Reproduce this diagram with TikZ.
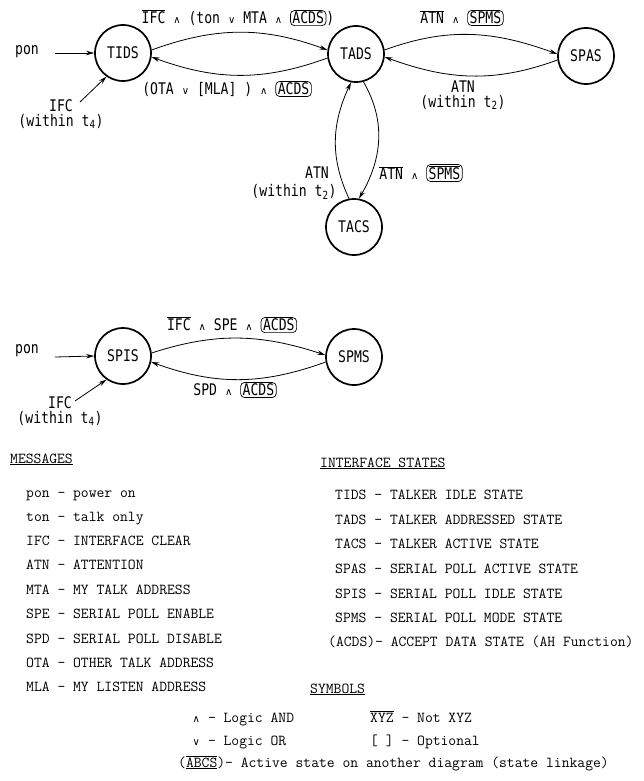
\documentclass[tikz,border=0pt]{standalone}
\usepackage{fontspec}
\usetikzlibrary{arrows.meta}
\newfontfamily\dfont[FakeStretch=0.82]{DejaVu Sans Mono}
\newfontfamily\symfont{DejaVu Sans}
\newcommand\AND{{\symfont\fontsize{10}{10}\selectfont ∧}}
\newcommand\OR{{\symfont\fontsize{10}{10}\selectfont ∨}}
\newcommand\lk[1]{\tikz[baseline=(lkx.base)]\node[draw,rounded corners=4pt,inner xsep=2pt,inner ysep=1.5pt,line width=0.7pt](lkx){#1};}
\newcommand\ol[1]{$\overline{\hbox{#1}}$}
\begin{document}
\begin{tikzpicture}[x=1pt,y=1pt,
  st/.style={circle,draw,line width=1.7pt,minimum size=56pt,inner sep=0pt,font=\dfont\fontsize{16}{16}\selectfont},
  lab/.style={font=\dfont\fontsize{16}{15}\selectfont,inner sep=0pt,align=center},
  tr/.style={line width=0.8pt,-{Stealth[length=8pt,width=4.5pt]}},
  leg/.style={font=\ttfamily\fontsize{15.2}{15.2}\selectfont,anchor=base west,inner sep=0pt}]
\useasboundingbox (0,0) rectangle (644,-781);
% states
\node[st] (TIDS) at (123,-53) {TIDS};
\node[st] (TADS) at (356,-54) {TADS};
\node[st] (SPAS) at (586,-56) {SPAS};
\node[st] (TACS) at (354,-227) {TACS};
\node[st] (SPIS) at (123,-356) {SPIS};
\node[st] (SPMS) at (354,-357) {SPMS};
% transitions
\draw[tr] (TIDS.6) to[out=20,in=160] (TADS.172);
\draw[tr] (TADS.188) to[out=200,in=-20] (TIDS.-8);
\draw[tr] (TADS.8) to[out=20,in=160] (SPAS.176);
\draw[tr] (SPAS.188) to[out=200,in=-20] (TADS.-6);
\draw[tr] (TACS.100) to[out=115,in=-115] (TADS.-100);
\draw[tr] (TADS.-75) to[out=-60,in=60] (TACS.80);
\draw[tr] (SPIS.6) to[out=18,in=162] (SPMS.176);
\draw[tr] (SPMS.190) to[out=200,in=-20] (SPIS.-12);
% initial arrows
\node[lab] (pon1) at (27,-52) {pon};
\coordinate (p1) at (55,-53);
\draw[tr] (p1) -- (TIDS.west);
\node[lab] (ifc1) at (61,-114) {IFC\\(within t\textsubscript{4})};
\coordinate (i1) at (80,-102);
\draw[tr] (i1) -- (TIDS.235);
\node[lab] (pon2) at (27,-351) {pon};
\coordinate (p2) at (55,-357);
\draw[tr] (p2) -- (SPIS.west);
\node[lab] (ifc2) at (60,-411) {IFC\\(within t\textsubscript{4})};
\coordinate (i2) at (75,-401);
\draw[tr] (i2) -- (SPIS.235);
% edge labels
\node[lab] (l1) at (238,-18) {\ol{IFC} \AND{} (ton \OR{} MTA \AND{} \lk{ACDS})};
\node[lab] (l2) at (227,-89) {(OTA \OR{} [MLA] ) \AND{} \lk{ACDS}};
\node[lab] (l3) at (462,-18) {\ol{ATN} \AND{} \lk{SPMS}};
\node[lab] (l4) at (463,-95) {ATN\\(within t\textsubscript{2})};
\node[lab] (l5) at (317,-173) {ATN};
\node[lab] (l5b) at (294,-192) {(within t\textsubscript{2})};
\node[lab] (l6) at (421,-173) {\ol{ATN} \AND{} \lk{\ol{SPMS}}};
\node[lab] (l7) at (232,-325) {\ol{IFC} \AND{} SPE \AND{} \lk{ACDS}};
\node[lab] (l8) at (235,-390) {SPD \AND{} \lk{ACDS}};
% legend: messages
\node[leg] (mh) at (10,-463) {\underline{MESSAGES}};
\node[leg] (m1) at (26,-497) {pon - power on};
\node[leg] (m2) at (26,-521) {ton - talk only};
\node[leg] (m3) at (26,-545) {IFC - INTERFACE CLEAR};
\node[leg] (m4) at (26,-569) {ATN - ATTENTION};
\node[leg] (m5) at (26,-594) {MTA - MY TALK ADDRESS};
\node[leg] (m6) at (26,-618) {SPE - SERIAL POLL ENABLE};
\node[leg] (m7) at (26,-643) {SPD - SERIAL POLL DISABLE};
\node[leg] (m8) at (26,-667) {OTA - OTHER TALK ADDRESS};
\node[leg] (m9) at (26,-691) {MLA - MY LISTEN ADDRESS};
% legend: interface states
\node[leg] (sh) at (320,-467) {\underline{INTERFACE STATES}};
\node[leg] (s1) at (335,-499) {TIDS - TALKER IDLE STATE};
\node[leg] (s2) at (335,-524) {TADS - TALKER ADDRESSED STATE};
\node[leg] (s3) at (335,-548) {TACS - TALKER ACTIVE STATE};
\node[leg] (s4) at (335,-573) {SPAS - SERIAL POLL ACTIVE STATE};
\node[leg] (s5) at (335,-598) {SPIS - SERIAL POLL IDLE STATE};
\node[leg] (s6) at (335,-622) {SPMS - SERIAL POLL MODE STATE};
\node[leg] (s7) at (328,-646) {(ACDS)- ACCEPT DATA STATE (AH Function)};
% legend: symbols
\node[leg] (yh) at (310,-693) {\underline{SYMBOLS}};
\node[leg] (y1) at (192,-722) {\makebox[8pt]{\AND} - Logic AND};
\node[leg] (y2) at (370,-722) {\ol{XYZ} - Not XYZ};
\node[leg] (y3) at (192,-745) {\makebox[8pt]{\OR} - Logic OR};
\node[leg] (y4) at (370,-745) {[ ] - Optional};
\node[leg] (y5) at (178,-767) {(\ol{\underline{ABCS}})- Active state on another diagram (state linkage)};
\end{tikzpicture}
\end{document}
